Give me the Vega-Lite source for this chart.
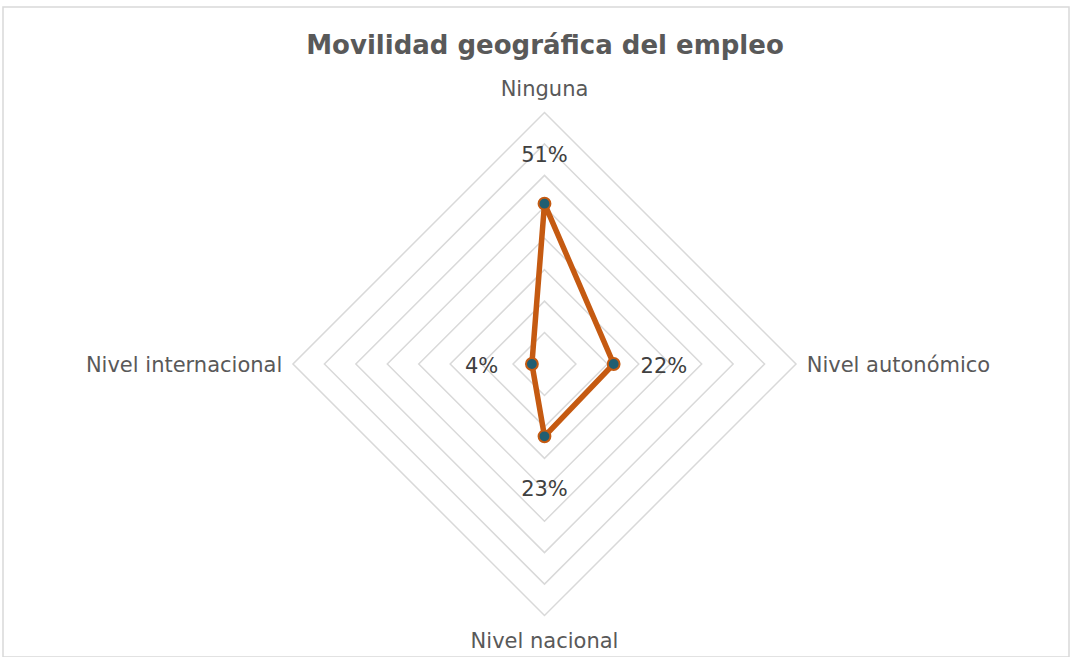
{
  "$schema": "https://vega.github.io/schema/vega-lite/v6.json",
  "width": 1066,
  "height": 650,
  "autosize": {"type": "none"},
  "padding": {"left": 3, "top": 7, "right": 3, "bottom": 0},
  "background": "white",
  "title": {
    "text": "Movilidad geográfica del empleo",
    "anchor": "middle",
    "offset": -38,
    "baseline": "middle",
    "dx": 9,
    "dy": 27,
    "font": "DejaVu Sans",
    "fontSize": 26,
    "fontWeight": "bold",
    "color": "#595959"
  },
  "config": {
    "view": {"stroke": "#D9D9D9", "strokeWidth": 1.5},
    "text": {"font": "DejaVu Sans"}
  },
  "datasets": {
    "movilidad": [
      {"categoria": "Ninguna", "valor": 51, "orden": 0},
      {"categoria": "Nivel autonómico", "valor": 22, "orden": 1},
      {"categoria": "Nivel nacional", "valor": 23, "orden": 2},
      {"categoria": "Nivel internacional", "valor": 4, "orden": 3}
    ],
    "niveles": [
      {"nivel": 10, "vertice": [0, 1, 2, 3]},
      {"nivel": 20, "vertice": [0, 1, 2, 3]},
      {"nivel": 30, "vertice": [0, 1, 2, 3]},
      {"nivel": 40, "vertice": [0, 1, 2, 3]},
      {"nivel": 50, "vertice": [0, 1, 2, 3]},
      {"nivel": 60, "vertice": [0, 1, 2, 3]},
      {"nivel": 70, "vertice": [0, 1, 2, 3]},
      {"nivel": 80, "vertice": [0, 1, 2, 3]}
    ]
  },
  "encoding": {
    "x": {"field": "px", "type": "quantitative", "axis": null, "scale": {"domain": [-172.23, 166.83], "nice": false, "zero": false}},
    "y": {"field": "py", "type": "quantitative", "axis": null, "scale": {"domain": [-93.19, 113.55], "nice": false, "zero": false}}
  },
  "layer": [
    {
      "data": {"name": "niveles"},
      "transform": [
        {"flatten": ["vertice"]},
        {"calculate": "datum.nivel * round(sin(datum.vertice * PI / 2))", "as": "px"},
        {"calculate": "datum.nivel * round(cos(datum.vertice * PI / 2))", "as": "py"}
      ],
      "mark": {"type": "line", "interpolate": "linear-closed", "stroke": "#D9D9D9", "strokeWidth": 1.5},
      "encoding": {
        "detail": {"field": "nivel", "type": "nominal"},
        "order": {"field": "vertice", "type": "quantitative"}
      }
    },
    {
      "data": {"name": "movilidad"},
      "transform": [
        {"calculate": "datum.valor * round(sin(datum.orden * PI / 2))", "as": "px"},
        {"calculate": "datum.valor * round(cos(datum.orden * PI / 2))", "as": "py"}
      ],
      "mark": {"type": "line", "interpolate": "linear-closed", "stroke": "#C55A11", "strokeWidth": 5.5, "strokeJoin": "round"},
      "encoding": {
        "order": {"field": "orden", "type": "quantitative"}
      }
    },
    {
      "data": {"name": "movilidad"},
      "transform": [
        {"calculate": "datum.valor * round(sin(datum.orden * PI / 2))", "as": "px"},
        {"calculate": "datum.valor * round(cos(datum.orden * PI / 2))", "as": "py"}
      ],
      "mark": {"type": "point", "filled": true, "fill": "#215E72", "stroke": "#C55A11", "strokeWidth": 2, "size": 140, "opacity": 1}
    },
    {
      "data": {"name": "movilidad"},
      "transform": [
        {"calculate": "(datum.valor + 16) * round(sin(datum.orden * PI / 2))", "as": "px"},
        {"calculate": "(datum.valor + 16) * round(cos(datum.orden * PI / 2))", "as": "py"},
        {"calculate": "datum.valor + '%'", "as": "etiqueta"}
      ],
      "mark": {"type": "text", "fontSize": 21, "color": "#404040", "align": "center", "baseline": "middle", "dy": 3},
      "encoding": {"text": {"field": "etiqueta"}}
    },
    {
      "data": {"name": "movilidad"},
      "transform": [
        {"filter": "datum.orden == 0 || datum.orden == 2"},
        {"calculate": "0", "as": "px"},
        {"calculate": "87.8 * round(cos(datum.orden * PI / 2))", "as": "py"}
      ],
      "mark": {"type": "text", "fontSize": 21, "color": "#595959", "align": "center", "baseline": "middle", "dy": 2},
      "encoding": {"text": {"field": "categoria"}}
    },
    {
      "data": {"name": "movilidad"},
      "transform": [
        {"filter": "datum.orden == 1"},
        {"calculate": "83.4", "as": "px"},
        {"calculate": "0", "as": "py"}
      ],
      "mark": {"type": "text", "fontSize": 21, "color": "#595959", "align": "left", "baseline": "middle", "dy": 2},
      "encoding": {"text": {"field": "categoria"}}
    },
    {
      "data": {"name": "movilidad"},
      "transform": [
        {"filter": "datum.orden == 3"},
        {"calculate": "-83.4", "as": "px"},
        {"calculate": "0", "as": "py"}
      ],
      "mark": {"type": "text", "fontSize": 21, "color": "#595959", "align": "right", "baseline": "middle", "dy": 2},
      "encoding": {"text": {"field": "categoria"}}
    }
  ]
}
